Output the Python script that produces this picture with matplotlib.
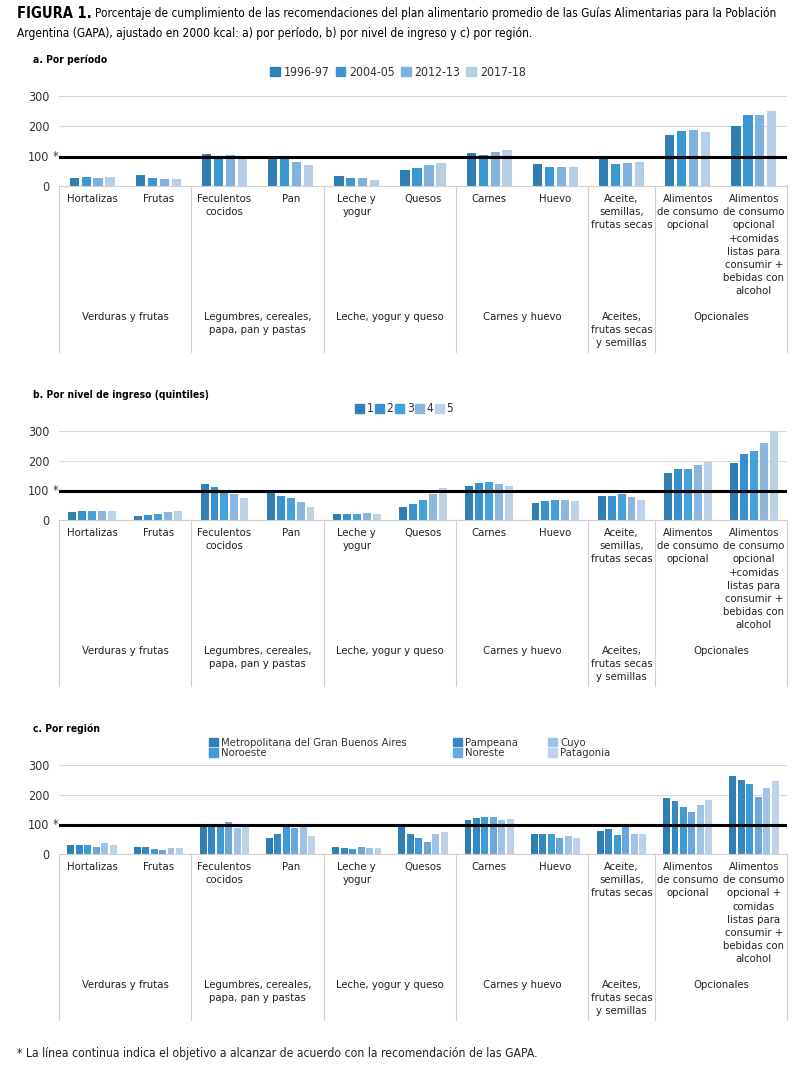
import numpy as np
import matplotlib
matplotlib.use('Agg')
import matplotlib.pyplot as plt
from matplotlib.patches import Patch

plt.rcParams['font.family'] = ['Noto Sans Condensed', 'DejaVu Sans']
plt.rcParams['font.stretch'] = 'condensed'

# categorías y grupos
cats = ['Hortalizas', 'Frutas', 'Feculentos\ncocidos', 'Pan', 'Leche y\nyogur', 'Quesos',
        'Carnes', 'Huevo', 'Aceite,\nsemillas,\nfrutas secas', 'Alimentos\nde consumo\nopcional',
        'Alimentos\nde consumo\nopcional\n+comidas\nlistas para\nconsumir +\nbebidas con\nalcohol']
cats_c = cats[:-1] + ['Alimentos\nde consumo\nopcional +\ncomidas\nlistas para\nconsumir +\nbebidas con\nalcohol']
grupos = ['Verduras y frutas', 'Legumbres, cereales,\npapa, pan y pastas', 'Leche, yogur y queso',
          'Carnes y huevo', 'Aceites,\nfrutas secas\ny semillas', 'Opcionales']
grupos_n = [2, 2, 2, 2, 1, 2]

# a) por período
periodos = ['1996-97', '2004-05', '2012-13', '2017-18']
p_1996 = [28, 36, 107, 100, 33, 53, 110, 72, 96, 170, 201]
p_2004 = [30, 27, 99, 99, 26, 60, 104, 63, 72, 183, 238]
p_2012 = [28, 23, 102, 81, 26, 71, 113, 62, 77, 186, 236]
p_2017 = [30, 23, 92, 69, 21, 77, 120, 64, 79, 179, 249]

# b) por quintil de ingreso
quintiles = ['1', '2', '3', '4', '5']
q1 = [26, 13, 121, 97, 20, 45, 116, 58, 82, 157, 193]
q2 = [29, 17, 111, 81, 20, 54, 124, 64, 82, 171, 221]
q3 = [30, 21, 97, 73, 20, 68, 128, 67, 86, 172, 232]
q4 = [31, 27, 86, 62, 22, 86, 121, 69, 76, 187, 261]
q5 = [31, 31, 73, 43, 20, 107, 113, 64, 69, 195, 300]

# c) por región
regiones = ['Metropolitana del Gran Buenos Aires', 'Pampeana', 'Noroeste', 'Noreste', 'Cuyo', 'Patagonia']
r_gba = [29, 22, 94, 54, 24, 93, 115, 69, 78, 189, 262]
r_pam = [29, 22, 94, 69, 20, 69, 121, 66, 83, 180, 251]
r_noa = [32, 18, 102, 92, 16, 55, 124, 66, 64, 158, 236]
r_nea = [22, 15, 109, 87, 25, 41, 126, 53, 90, 140, 191]
r_cuy = [36, 19, 88, 99, 19, 67, 115, 60, 67, 165, 223]
r_pat = [32, 21, 99, 59, 21, 73, 119, 54, 68, 183, 245]

objetivo = 98

col4 = ['#2f7fb2', '#3a97d2', '#7fb2dc', '#b7cfe6']
col5 = ['#2f7fb2', '#3890cc', '#45a1dc', '#8db6df', '#bcd2e8']
col6 = ['#2f7fb2', '#3588c2', '#3f9bd6', '#6aa7da', '#9fc3e6', '#bdd2e8']

W, H = 807, 1072
fig = plt.figure(figsize=(W / 100, H / 100), dpi=100)
fs = 8.1


def panel(zero_px, top_px, series, colors, labels, slot, bw):
    ax = fig.add_axes([59 / W, 1 - zero_px / H, 728 / W, (zero_px - top_px) / H])
    x = np.arange(len(labels))
    n = len(series)
    for i, (vals, c) in enumerate(zip(series, colors)):
        ax.bar(x + (i - (n - 1) / 2) * slot, vals, bw, color=c, zorder=2)
    ax.set_xlim(-0.5, len(labels) - 0.5)
    ax.set_ylim(0, 300)
    ax.set_yticks([0, 100, 200, 300])
    ax.set_xticks([])
    ax.grid(axis='y', color='#d9d9d9', lw=0.8, zorder=0)
    for s in ['top', 'right', 'left']:
        ax.spines[s].set_visible(False)
    ax.spines['bottom'].set_color('#d0d0d0')
    ax.tick_params(axis='y', length=0, labelsize=9, colors='#333333', pad=7)
    ax.axhline(objetivo, color='black', lw=2.2, zorder=3)
    ax.text(-0.001, objetivo, '*', transform=ax.get_yaxis_transform(), ha='right', va='center',
            fontsize=9, color='#333333')
    hpx = zero_px - top_px
    # etiquetas de categoría
    for i, lab in enumerate(labels):
        ax.text(i, -8 / hpx, lab, transform=ax.get_xaxis_transform(), ha='center', va='top',
                fontsize=fs, linespacing=1.4, color='#222222')
    # grupos y separadores
    pos = -0.5
    ax.plot([pos, pos], [0, -166 / hpx], transform=ax.get_xaxis_transform(), color='#d0d0d0',
            lw=0.8, clip_on=False)
    for g, k in zip(grupos, grupos_n):
        ax.text(pos + k / 2, -126 / hpx, g, transform=ax.get_xaxis_transform(), ha='center',
                va='top', fontsize=fs, linespacing=1.4, color='#222222')
        pos += k
        ax.plot([pos, pos], [0, -166 / hpx], transform=ax.get_xaxis_transform(), color='#d0d0d0',
                lw=0.8, clip_on=False)
    return ax


panel(186, 96, [p_1996, p_2004, p_2012, p_2017], col4, cats, 0.18, 0.14)
panel(520, 431, [q1, q2, q3, q4, q5], col5, cats, 0.15, 0.12)
panel(854, 765, [r_gba, r_pam, r_noa, r_nea, r_cuy, r_pat], col6, cats_c, 0.128, 0.105)

# título
t1 = fig.text(17 / W, 1 - 14 / H, 'FIGURA 1.', fontsize=10.5, fontweight='bold', va='center')
fig.canvas.draw()
bb = t1.get_window_extent()
fig.text((bb.x1 + 3) / W, 1 - 14 / H,
         'Porcentaje de cumplimiento de las recomendaciones del plan alimentario promedio de las Guías Alimentarias para la Población',
         fontsize=8.5, va='center')
fig.text(17 / W, 1 - 33 / H,
         'Argentina (GAPA), ajustado en 2000 kcal: a) por período, b) por nivel de ingreso y c) por región.',
         fontsize=8.6, va='center')

# subtítulos
fig.text(33 / W, 1 - 60 / H, 'a. Por período', fontsize=7.4, fontweight='bold', va='center')
fig.text(33 / W, 1 - 395 / H, 'b. Por nivel de ingreso (quintiles)', fontsize=7.4, fontweight='bold', va='center')
fig.text(33 / W, 1 - 729 / H, 'c. Por región', fontsize=7.4, fontweight='bold', va='center')

# leyendas
leg_kw = dict(frameon=False, handlelength=0.8, handleheight=0.8, handletextpad=0.3,
              borderpad=0, borderaxespad=0, labelcolor='#333333')
fig.legend([Patch(color=c) for c in col4], periodos, loc='center', ncol=4,
           bbox_to_anchor=(398 / W, 1 - 72 / H), fontsize=8.8, columnspacing=0.5, **leg_kw)
leg_kw['handletextpad'] = 0.2
fig.legend([Patch(color=c) for c in col5], quintiles, loc='center', ncol=5,
           bbox_to_anchor=(404 / W, 1 - 409 / H), fontsize=8.6, columnspacing=0.1, **leg_kw)
leg_kw['handletextpad'] = 0.3
# leyenda c: primera columna aparte para reproducir el espaciado
fig.legend([Patch(color=col6[0]), Patch(color=col6[2])], [regiones[0], regiones[2]],
           loc='center left', ncol=1, bbox_to_anchor=(209 / W, 1 - 748 / H), fontsize=8.1,
           labelspacing=0.05, **leg_kw)
orden = [1, 3, 4, 5]
fig.legend([Patch(color=col6[i]) for i in orden], [regiones[i] for i in orden], loc='center left',
           ncol=2, bbox_to_anchor=(453 / W, 1 - 748 / H), fontsize=8.1, columnspacing=2.6,
           labelspacing=0.05, **leg_kw)

fig.text(17 / W, 1 - 1053 / H,
         '* La línea continua indica el objetivo a alcanzar de acuerdo con la recomendación de las GAPA.',
         fontsize=8.7, va='center', color='#222222')

fig.savefig('out.png', dpi=100, facecolor='white')
